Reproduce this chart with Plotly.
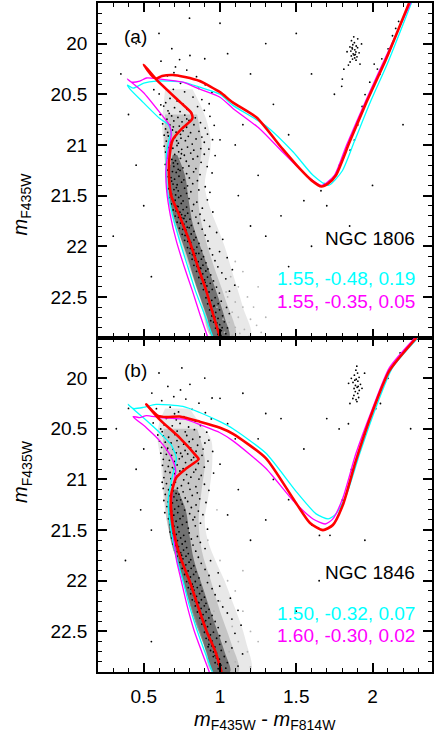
import plotly.graph_objects as go
from plotly.subplots import make_subplots

# ---- isochrones, panel (a) NGC 1806: (colour, magnitude)
iso_a_red = [(1.0, 22.9), (0.96, 22.7), (0.91, 22.44), (0.855, 22.2), (0.80, 21.95), (0.74, 21.72),
             (0.68, 21.5), (0.665, 21.3), (0.67, 21.1), (0.69, 20.95), (0.75, 20.84), (0.81, 20.76),
             (0.82, 20.73), (0.81, 20.68), (0.74, 20.58), (0.58, 20.35), (0.50, 20.21), (0.55, 20.31),
             (0.58, 20.345), (0.62, 20.32), (0.69, 20.31), (0.77, 20.33), (0.867, 20.37), (1.0, 20.48),
             (1.083, 20.58), (1.24, 20.73), (1.41, 21.04), (1.52, 21.23), (1.6, 21.35), (1.665, 21.41),
             (1.71, 21.38), (1.76, 21.30), (1.85, 20.97), (1.96, 20.58), (2.09, 20.15), (2.24, 19.6)]
iso_a_cyan = [(0.954, 22.9), (0.90, 22.68), (0.839, 22.44), (0.788, 22.2), (0.736, 21.95), (0.69, 21.7),
              (0.655, 21.45), (0.648, 21.25), (0.65, 21.07), (0.67, 20.92), (0.68, 20.87), (0.66, 20.8),
              (0.605, 20.74), (0.496, 20.58), (0.41, 20.45), (0.393, 20.41), (0.43, 20.44), (0.50, 20.39),
              (0.58, 20.37), (0.756, 20.38), (0.867, 20.43), (1.0, 20.5), (1.085, 20.61), (1.30, 20.81),
              (1.48, 21.07), (1.61, 21.30), (1.71, 21.40), (1.80, 21.26), (1.88, 20.97), (1.985, 20.58),
              (2.10, 20.19), (2.255, 19.6)]
iso_a_mag = [(0.92, 22.9), (0.87, 22.68), (0.819, 22.44), (0.765, 22.2), (0.714, 21.95), (0.675, 21.7),
             (0.65, 21.45), (0.645, 21.25), (0.66, 21.07), (0.68, 20.90), (0.67, 20.81), (0.605, 20.68),
             (0.496, 20.48), (0.393, 20.35), (0.42, 20.38), (0.474, 20.37), (0.518, 20.34), (0.605, 20.35),
             (0.756, 20.38), (0.867, 20.45), (1.0, 20.53), (1.085, 20.64), (1.26, 20.84), (1.41, 21.07),
             (1.566, 21.30), (1.665, 21.40), (1.75, 21.30), (1.83, 21.0), (1.96, 20.55), (2.09, 20.12),
             (2.25, 19.6)]

# ---- isochrones, panel (b) NGC 1846
iso_b_red = [(1.01, 22.9), (0.97, 22.7), (0.91, 22.49), (0.855, 22.25), (0.80, 22.0), (0.74, 21.77),
             (0.70, 21.54), (0.68, 21.31), (0.68, 21.15), (0.714, 20.98), (0.78, 20.89), (0.86, 20.80),
             (0.845, 20.77), (0.736, 20.59), (0.605, 20.41), (0.517, 20.26), (0.56, 20.33), (0.59, 20.37),
             (0.65, 20.385), (0.736, 20.38), (0.867, 20.43), (1.0, 20.49), (1.085, 20.55), (1.30, 20.79),
             (1.48, 21.19), (1.59, 21.43), (1.675, 21.50), (1.74, 21.45), (1.806, 21.25), (1.89, 20.82),
             (2.0, 20.33), (2.11, 19.93), (2.29, 19.6)]
iso_b_cyan = [(0.95, 22.9), (0.90, 22.7), (0.85, 22.49), (0.80, 22.25), (0.757, 22.0), (0.72, 21.8),
              (0.69, 21.6), (0.67, 21.41), (0.66, 21.21), (0.68, 21.02), (0.70, 20.89), (0.714, 20.79),
              (0.68, 20.66), (0.605, 20.54), (0.496, 20.39), (0.397, 20.26), (0.43, 20.30), (0.496, 20.29),
              (0.58, 20.26), (0.757, 20.28), (0.867, 20.34), (1.0, 20.43), (1.085, 20.5), (1.30, 20.74),
              (1.50, 21.12), (1.63, 21.34), (1.71, 21.39), (1.76, 21.34), (1.83, 21.15), (1.915, 20.75),
              (2.02, 20.30), (2.13, 19.90), (2.30, 19.6)]
iso_b_mag = [(0.93, 22.9), (0.88, 22.7), (0.83, 22.49), (0.785, 22.25), (0.746, 22.0), (0.715, 21.8),
             (0.70, 21.61), (0.68, 21.31), (0.69, 21.08), (0.71, 20.92), (0.70, 20.85), (0.67, 20.75),
             (0.605, 20.62), (0.517, 20.49), (0.43, 20.38), (0.474, 20.39), (0.517, 20.37), (0.605, 20.39),
             (0.78, 20.41), (0.867, 20.46), (1.0, 20.54), (1.085, 20.62), (1.30, 20.89), (1.48, 21.21),
             (1.61, 21.39), (1.69, 21.44), (1.74, 21.39), (1.806, 21.18), (1.89, 20.75), (2.0, 20.30),
             (2.11, 19.90), (2.28, 19.6)]

# ---- main-sequence star density: magnitude, blue edge, red edge
env_a_mag = [20.45, 20.6, 20.8, 21.0, 21.2, 21.4, 21.6, 21.8, 22.0, 22.2, 22.4, 22.6, 22.9]
env_a_lo = [0.64, 0.63, 0.62, 0.63, 0.64, 0.65, 0.68, 0.72, 0.76, 0.80, 0.85, 0.89, 0.95]
env_a_hi = [0.82, 0.87, 0.92, 0.94, 0.92, 0.90, 0.93, 0.98, 1.03, 1.07, 1.11, 1.15, 1.2]
mid_a_mag = [20.7, 21.0, 21.3, 21.6, 21.9, 22.2, 22.5, 22.9]
mid_a_lo = [0.64, 0.635, 0.645, 0.665, 0.725, 0.795, 0.865, 0.95]
mid_a_hi = [0.85, 0.88, 0.86, 0.86, 0.9, 0.96, 1.03, 1.1]
core_a_mag = [21.1, 21.3, 21.55, 21.8, 22.1, 22.4, 22.7, 22.9]
core_a_lo = [0.69, 0.665, 0.67, 0.715, 0.785, 0.845, 0.915, 0.955]
core_a_hi = [0.72, 0.77, 0.795, 0.825, 0.895, 0.965, 1.03, 1.06]

env_b_mag = [20.3, 20.45, 20.6, 20.8, 21.0, 21.2, 21.4, 21.6, 21.8, 22.0, 22.2, 22.4, 22.6, 22.9]
env_b_lo = [0.64, 0.6, 0.59, 0.61, 0.62, 0.63, 0.65, 0.68, 0.72, 0.76, 0.80, 0.85, 0.89, 0.95]
env_b_hi = [0.8, 0.87, 0.94, 0.95, 0.94, 0.92, 0.90, 0.92, 0.97, 1.03, 1.08, 1.13, 1.17, 1.2]
mid_b_mag = [20.5, 20.8, 21.1, 21.4, 21.7, 22.0, 22.3, 22.6, 22.9]
mid_b_lo = [0.63, 0.625, 0.635, 0.65, 0.70, 0.76, 0.82, 0.89, 0.95]
mid_b_hi = [0.85, 0.9, 0.88, 0.86, 0.88, 0.94, 1.0, 1.07, 1.12]
core_b_mag = [21.1, 21.3, 21.55, 21.8, 22.1, 22.4, 22.7, 22.9]
core_b_lo = [0.69, 0.665, 0.67, 0.715, 0.775, 0.835, 0.91, 0.955]
core_b_hi = [0.72, 0.775, 0.8, 0.83, 0.895, 0.96, 1.03, 1.065]

# ---- stars, panel (a)
stars_a = [
    (0.613, 20.174), (0.708, 20.231), (0.782, 20.262), (0.655, 20.318), (0.587, 20.364), (0.846, 20.327),
    (0.741, 20.392), (0.627, 20.418), (0.694, 20.452), (0.903, 20.407), (0.768, 20.476), (0.601, 20.497),
    (0.823, 20.528), (0.672, 20.541), (0.719, 20.566), (0.881, 20.553), (0.644, 20.583), (0.757, 20.597),
    (0.947, 20.481), (0.566, 20.455), (0.698, 20.287), (0.803, 20.118), (0.684, 20.051), (0.929, 20.594),
    (0.612, 20.605), (0.735, 20.158), (0.859, 20.442),
    (0.631, 20.617), (0.702, 20.633), (0.784, 20.648), (0.853, 20.622), (0.659, 20.664), (0.738, 20.671),
    (0.812, 20.683), (0.897, 20.659), (0.608, 20.701), (0.683, 20.714), (0.724, 20.729), (0.769, 20.706),
    (0.838, 20.733), (0.934, 20.718), (0.652, 20.747), (0.697, 20.763), (0.751, 20.772), (0.797, 20.757),
    (0.872, 20.781), (0.624, 20.792), (0.671, 20.803), (0.733, 20.814), (0.781, 20.826), (0.829, 20.801),
    (0.903, 20.834), (0.962, 20.807), (0.643, 20.842), (0.688, 20.853), (0.712, 20.874), (0.758, 20.861),
    (0.807, 20.879), (0.862, 20.866), (0.918, 20.893), (0.634, 20.904), (0.661, 20.912), (0.703, 20.927),
    (0.744, 20.934), (0.792, 20.915), (0.843, 20.941), (0.881, 20.923), (0.648, 20.962), (0.679, 20.971),
    (0.727, 20.983), (0.773, 20.958), (0.818, 20.992), (0.897, 20.974), (0.951, 20.948), (0.667, 20.689),
    (0.741, 20.896), (0.782, 20.744), (0.694, 20.822), (0.716, 20.958), (0.657, 20.877),
    (0.634, 21.012), (0.662, 21.027), (0.691, 21.033), (0.718, 21.006), (0.749, 21.044), (0.787, 21.021),
    (0.828, 21.052), (0.874, 21.036), (0.927, 21.041), (0.643, 21.071), (0.671, 21.083), (0.703, 21.094),
    (0.729, 21.068), (0.766, 21.102), (0.808, 21.081), (0.853, 21.114), (0.897, 21.092), (0.968, 21.105),
    (0.652, 21.128), (0.684, 21.143), (0.708, 21.156), (0.741, 21.132), (0.779, 21.161), (0.823, 21.139),
    (0.876, 21.172), (0.641, 21.193), (0.668, 21.204), (0.697, 21.212), (0.722, 21.187), (0.757, 21.226),
    (0.796, 21.208), (0.842, 21.234), (0.916, 21.214), (0.657, 21.248), (0.688, 21.263), (0.713, 21.271),
    (0.738, 21.252), (0.781, 21.284), (0.827, 21.266), (0.869, 21.293), (0.948, 21.276), (0.651, 21.313),
    (0.679, 21.322), (0.702, 21.338), (0.731, 21.309), (0.763, 21.344), (0.799, 21.326), (0.852, 21.353),
    (0.668, 21.371), (0.692, 21.386), (0.719, 21.393), (0.748, 21.368), (0.787, 21.404), (0.821, 21.382),
    (0.903, 21.413), (0.663, 21.432), (0.698, 21.441), (0.726, 21.453), (0.768, 21.427), (0.809, 21.462),
    (0.861, 21.444), (0.682, 21.484), (0.709, 21.493), (0.743, 21.502), (0.781, 21.478), (0.934, 21.468),
    (0.694, 21.178), (0.726, 21.241), (0.683, 21.357), (0.747, 21.087), (0.714, 21.421),
    (0.664, 21.521), (0.687, 21.534), (0.706, 21.546), (0.729, 21.518), (0.758, 21.553), (0.797, 21.529),
    (0.848, 21.564), (0.917, 21.542), (0.681, 21.582), (0.702, 21.593), (0.718, 21.604), (0.746, 21.577),
    (0.781, 21.613), (0.827, 21.588), (0.884, 21.624), (0.693, 21.641), (0.712, 21.652), (0.737, 21.664),
    (0.758, 21.638), (0.788, 21.673), (0.818, 21.651), (0.869, 21.684), (0.953, 21.662), (0.706, 21.702),
    (0.728, 21.714), (0.749, 21.721), (0.771, 21.698), (0.803, 21.733), (0.842, 21.712), (0.897, 21.744),
    (0.719, 21.763), (0.741, 21.771), (0.763, 21.782), (0.779, 21.757), (0.812, 21.794), (0.858, 21.773),
    (0.932, 21.804), (0.734, 21.822), (0.756, 21.833), (0.777, 21.842), (0.798, 21.817), (0.829, 21.853),
    (0.883, 21.831), (0.978, 21.864), (0.752, 21.882), (0.771, 21.893), (0.792, 21.904), (0.811, 21.879),
    (0.842, 21.913), (0.903, 21.891), (0.768, 21.941), (0.789, 21.952), (0.808, 21.963), (0.829, 21.937),
    (0.862, 21.972), (0.921, 21.948), (1.018, 21.931), (0.726, 21.608), (0.748, 21.687), (0.785, 21.812),
    (0.763, 21.726),
    (0.787, 22.013), (0.806, 22.021), (0.827, 22.034), (0.848, 22.008), (0.879, 22.043), (0.932, 22.024),
    (0.997, 22.052), (0.801, 22.068), (0.819, 22.082), (0.838, 22.094), (0.861, 22.071), (0.892, 22.103),
    (0.951, 22.084), (1.047, 22.112), (0.817, 22.128), (0.836, 22.139), (0.857, 22.152), (0.878, 22.127),
    (0.908, 22.163), (0.967, 22.142), (0.829, 22.188), (0.848, 22.197), (0.869, 22.213), (0.888, 22.186),
    (0.921, 22.224), (0.986, 22.203), (1.081, 22.231), (0.846, 22.247), (0.866, 22.258), (0.887, 22.272),
    (0.907, 22.244), (0.939, 22.283), (1.012, 22.262), (0.861, 22.308), (0.879, 22.317), (0.899, 22.331),
    (0.918, 22.304), (0.957, 22.342), (1.038, 22.321), (0.876, 22.368), (0.896, 22.377), (0.914, 22.392),
    (0.936, 22.366), (0.977, 22.403), (1.097, 22.384), (0.891, 22.427), (0.908, 22.438), (0.928, 22.451),
    (0.949, 22.426), (0.996, 22.462), (1.062, 22.443), (0.843, 22.071), (0.874, 22.219), (0.902, 22.356),
    (0.908, 22.508), (0.927, 22.521), (0.946, 22.533), (0.968, 22.507), (1.008, 22.542), (0.919, 22.568),
    (0.937, 22.579), (0.958, 22.592), (0.988, 22.566), (1.043, 22.603), (0.932, 22.628), (0.951, 22.641),
    (0.972, 22.653), (0.997, 22.627), (1.061, 22.664), (0.947, 22.688), (0.966, 22.698), (0.987, 22.712),
    (1.017, 22.686), (0.958, 22.748), (0.979, 22.757), (0.998, 22.773), (1.028, 22.745), (0.971, 22.807),
    (0.991, 22.818), (1.009, 22.832), (1.049, 22.806), (0.986, 22.868), (1.006, 22.879), (1.038, 22.862),
    (0.939, 22.734), (0.962, 22.587), (1.014, 22.803),
    # red clump and giants
    (1.862, 19.972), (1.881, 19.991), (1.871, 20.012), (1.893, 20.024), (1.852, 20.033), (1.902, 20.041),
    (1.868, 20.053), (1.884, 20.062), (1.858, 20.074), (1.891, 20.083), (1.912, 20.092), (1.873, 20.101),
    (1.879, 20.113), (1.861, 20.122), (1.898, 20.131), (1.883, 20.142), (1.869, 20.153), (1.892, 20.164),
    (1.853, 20.182), (1.918, 20.203), (1.833, 20.081), (1.928, 20.004), (1.877, 19.934), (1.842, 20.212),
    (1.903, 19.953), (1.812, 20.253), (1.802, 20.351), (1.798, 20.422), (1.887, 20.108), (1.866, 20.041),
    (2.011, 20.203), (2.032, 20.252), (2.048, 20.304), (2.061, 20.151), (2.102, 20.052), (2.131, 19.923),
    (2.152, 19.851), (2.171, 19.782), (1.982, 20.381), (1.951, 20.503), (1.932, 20.621), (1.903, 20.803),
    (1.881, 20.952), (1.853, 21.051), (1.782, 21.203), (1.683, 21.381), (1.662, 21.452),
    # field
    (0.35, 20.3), (0.4, 20.7), (0.45, 21.2), (0.5, 21.6), (0.3, 21.9), (0.55, 22.3), (0.45, 20.0),
    (1.05, 20.1), (1.2, 20.3), (1.35, 20.6), (1.15, 20.8), (1.45, 20.9), (1.1, 21.0), (1.25, 21.3),
    (1.55, 21.55), (1.4, 21.7), (1.7, 21.6), (1.3, 21.9), (1.6, 22.0), (1.45, 22.2), (1.85, 21.8),
    (2.0, 21.4), (1.75, 20.5), (1.6, 20.3), (2.2, 20.8), (1.0, 19.8), (0.8, 19.75), (1.5, 19.9),
    (1.3, 20.0), (1.12, 21.5), (1.2, 21.8), (0.9, 20.15), (0.6, 19.9), (1.4, 22.5), (1.0, 20.95),
]
faint_a = [
    (1.05, 22.5), (1.1, 22.55), (1.15, 22.6), (1.08, 22.65), (1.12, 22.7), (1.2, 22.72), (1.06, 22.75),
    (1.1, 22.8), (1.16, 22.82), (1.24, 22.78), (1.03, 22.85), (1.08, 22.88), (1.13, 22.86), (1.19, 22.89),
    (1.27, 22.85), (1.02, 22.62), (1.18, 22.5), (1.12, 22.4), (1.07, 22.3), (1.15, 22.25), (1.22, 22.6),
    (1.3, 22.7), (1.1, 22.15), (1.02, 22.72), (0.98, 22.6), (1.04, 22.45), (1.25, 22.4),
]

# ---- stars, panel (b)
stars_b = [
    (0.658, 20.083), (0.741, 20.117), (0.803, 20.062), (0.697, 20.184), (0.618, 20.223), (0.776, 20.207),
    (0.862, 20.248), (0.583, 20.302), (0.673, 20.287), (0.728, 20.334), (0.817, 20.309), (0.904, 20.342),
    (0.602, 20.373), (0.648, 20.398), (0.713, 20.412), (0.763, 20.381), (0.838, 20.424), (0.943, 20.403),
    (0.562, 20.443), (0.634, 20.462), (0.687, 20.471), (0.738, 20.448), (0.794, 20.483), (0.872, 20.468),
    (0.611, 20.502), (0.668, 20.497), (0.719, 20.523), (0.772, 20.531), (0.832, 20.509), (0.913, 20.534),
    (0.553, 20.148), (0.948, 20.197), (0.702, 20.352), (0.621, 20.529),
    (0.592, 20.562), (0.628, 20.571), (0.663, 20.584), (0.704, 20.558), (0.737, 20.593), (0.782, 20.567),
    (0.821, 20.604), (0.868, 20.581), (0.927, 20.613), (0.603, 20.622), (0.641, 20.633), (0.679, 20.641),
    (0.718, 20.617), (0.762, 20.652), (0.798, 20.628), (0.853, 20.663), (0.901, 20.641), (0.617, 20.684),
    (0.657, 20.692), (0.692, 20.703), (0.728, 20.679), (0.771, 20.714), (0.808, 20.688), (0.843, 20.722),
    (0.889, 20.701), (0.952, 20.724), (0.612, 20.741), (0.648, 20.753), (0.683, 20.762), (0.713, 20.738),
    (0.752, 20.774), (0.788, 20.749), (0.827, 20.783), (0.882, 20.762), (0.628, 20.802), (0.668, 20.812),
    (0.702, 20.823), (0.733, 20.797), (0.774, 20.834), (0.812, 20.808), (0.858, 20.843), (0.921, 20.819),
    (0.623, 20.861), (0.661, 20.872), (0.688, 20.883), (0.719, 20.857), (0.758, 20.894), (0.801, 20.868),
    (0.841, 20.902), (0.897, 20.879), (0.642, 20.921), (0.672, 20.932), (0.703, 20.943), (0.737, 20.917),
    (0.781, 20.952), (0.828, 20.928), (0.877, 20.961), (0.958, 20.938), (0.632, 20.982), (0.678, 20.993),
    (0.718, 20.969), (0.762, 21.004), (0.809, 20.978), (0.862, 20.997), (0.742, 20.742), (0.698, 20.898),
    (0.652, 20.708),
    (0.621, 21.028), (0.649, 21.041), (0.682, 21.053), (0.708, 21.026), (0.747, 21.062), (0.793, 21.038),
    (0.842, 21.072), (0.898, 21.048), (0.628, 21.089), (0.663, 21.102), (0.692, 21.113), (0.721, 21.087),
    (0.758, 21.122), (0.803, 21.098), (0.851, 21.132), (0.927, 21.108), (0.641, 21.148), (0.672, 21.161),
    (0.698, 21.172), (0.731, 21.146), (0.772, 21.183), (0.818, 21.158), (0.867, 21.192), (0.632, 21.208),
    (0.658, 21.221), (0.688, 21.232), (0.717, 21.206), (0.752, 21.243), (0.788, 21.218), (0.843, 21.252),
    (0.908, 21.228), (0.652, 21.268), (0.677, 21.282), (0.703, 21.293), (0.728, 21.267), (0.768, 21.303),
    (0.812, 21.277), (0.858, 21.312), (0.638, 21.328), (0.668, 21.342), (0.697, 21.353), (0.723, 21.327),
    (0.757, 21.362), (0.801, 21.338), (0.834, 21.372), (0.888, 21.348), (0.662, 21.388), (0.688, 21.402),
    (0.712, 21.413), (0.738, 21.387), (0.781, 21.422), (0.823, 21.398), (0.872, 21.432), (0.671, 21.447),
    (0.698, 21.461), (0.722, 21.472), (0.753, 21.446), (0.792, 21.482), (0.838, 21.458), (0.918, 21.491),
    (0.712, 21.138), (0.683, 21.312), (0.742, 21.201),
    (0.673, 21.518), (0.692, 21.532), (0.713, 21.543), (0.731, 21.517), (0.762, 21.552), (0.798, 21.528),
    (0.852, 21.562), (0.683, 21.578), (0.702, 21.592), (0.721, 21.603), (0.742, 21.577), (0.772, 21.612),
    (0.812, 21.588), (0.871, 21.622), (0.692, 21.638), (0.711, 21.652), (0.728, 21.663), (0.752, 21.637),
    (0.781, 21.672), (0.823, 21.648), (0.902, 21.682), (0.703, 21.698), (0.721, 21.712), (0.742, 21.723),
    (0.761, 21.697), (0.792, 21.732), (0.841, 21.708), (0.718, 21.758), (0.738, 21.772), (0.757, 21.783),
    (0.777, 21.757), (0.808, 21.792), (0.858, 21.768), (0.938, 21.802), (0.737, 21.818), (0.756, 21.832),
    (0.776, 21.843), (0.797, 21.817), (0.828, 21.852), (0.877, 21.828), (0.752, 21.878), (0.771, 21.892),
    (0.791, 21.903), (0.811, 21.877), (0.842, 21.912), (0.902, 21.888), (0.988, 21.922), (0.768, 21.938),
    (0.787, 21.952), (0.806, 21.963), (0.827, 21.937), (0.862, 21.972), (0.928, 21.948), (0.723, 21.668),
    (0.748, 21.748),
    (0.781, 22.008), (0.799, 22.022), (0.818, 22.033), (0.838, 22.007), (0.871, 22.042), (0.918, 22.018),
    (0.998, 22.052), (0.792, 22.068), (0.811, 22.082), (0.829, 22.093), (0.851, 22.067), (0.882, 22.102),
    (0.948, 22.078), (0.808, 22.128), (0.827, 22.142), (0.846, 22.153), (0.866, 22.127), (0.898, 22.162),
    (0.968, 22.138), (1.068, 22.172), (0.818, 22.188), (0.838, 22.202), (0.857, 22.213), (0.878, 22.187),
    (0.908, 22.222), (0.988, 22.198), (0.838, 22.248), (0.856, 22.262), (0.876, 22.273), (0.897, 22.247),
    (0.928, 22.282), (1.018, 22.258), (1.118, 22.292), (0.852, 22.308), (0.871, 22.322), (0.889, 22.333),
    (0.909, 22.307), (0.948, 22.342), (1.048, 22.318), (0.868, 22.368), (0.887, 22.382), (0.906, 22.393),
    (0.927, 22.367), (0.968, 22.402), (1.078, 22.378), (0.881, 22.428), (0.899, 22.442), (0.918, 22.453),
    (0.938, 22.427), (0.988, 22.462), (1.138, 22.438), (0.862, 22.218), (0.897, 22.409), (0.823, 22.058),
    (0.898, 22.508), (0.918, 22.522), (0.937, 22.533), (0.957, 22.507), (0.998, 22.542), (1.098, 22.518),
    (0.909, 22.568), (0.928, 22.582), (0.947, 22.593), (0.978, 22.567), (1.038, 22.602), (0.927, 22.628),
    (0.946, 22.642), (0.966, 22.653), (0.998, 22.627), (1.078, 22.662), (0.938, 22.688), (0.957, 22.702),
    (0.977, 22.713), (1.008, 22.687), (1.148, 22.722), (0.956, 22.748), (0.976, 22.762), (0.996, 22.773),
    (1.028, 22.747), (0.968, 22.808), (0.987, 22.822), (1.006, 22.833), (1.048, 22.807), (1.118, 22.842),
    (0.988, 22.868), (1.008, 22.882), (1.038, 22.862), (0.922, 22.651), (0.968, 22.738),
    # red clump and giants
    (1.891, 19.922), (1.902, 19.951), (1.881, 19.972), (1.912, 19.993), (1.893, 20.012), (1.904, 20.031),
    (1.872, 20.043), (1.921, 20.062), (1.888, 20.073), (1.899, 20.091), (1.879, 20.103), (1.913, 20.122),
    (1.887, 20.133), (1.903, 20.152), (1.878, 20.171), (1.909, 20.192), (1.892, 20.213), (1.898, 20.232),
    (1.861, 20.003), (1.931, 20.101), (1.871, 20.202), (1.843, 20.052), (1.948, 19.952), (1.897, 19.883),
    (1.852, 20.251), (1.884, 20.021), (1.906, 20.083),
    (1.842, 20.451), (1.781, 20.502), (1.951, 20.553), (2.021, 20.302), (2.052, 20.251), (1.972, 20.451),
    (2.101, 20.003), (2.142, 19.852), (2.181, 19.752), (1.862, 20.902), (1.803, 21.201), (1.721, 21.552),
    (1.652, 21.553), (1.603, 21.451),
    # field
    (0.32, 20.5), (0.4, 20.3), (0.45, 20.9), (0.48, 21.3), (0.5, 20.7), (0.55, 21.5), (0.38, 21.8),
    (0.6, 19.95), (0.75, 19.9), (0.9, 20.0), (1.0, 20.2), (1.05, 20.45), (1.15, 20.15), (1.3, 20.35),
    (1.0, 20.85), (1.12, 21.1), (1.05, 21.35), (1.2, 21.6), (1.35, 21.0), (1.45, 21.2), (1.55, 20.7),
    (1.3, 21.4), (1.4, 20.4), (1.7, 20.4), (2.25, 20.5), (1.95, 21.6), (1.5, 22.3), (0.55, 22.6),
    (1.65, 22.0), (1.25, 20.6), (1.1, 20.6),
]
faint_b = [
    (1.05, 22.0), (1.1, 22.1), (1.0, 22.2), (1.15, 22.3), (1.08, 22.45), (1.2, 22.5), (1.12, 22.6),
    (1.18, 22.7), (1.06, 22.7), (1.1, 22.8), (1.2, 22.85), (1.03, 22.62), (0.96, 22.3), (1.25, 22.6),
    (1.0, 21.8), (0.92, 21.6), (0.98, 21.3), (1.15, 21.9),
]

labels_a = ['NGC 1806', '1.55, -0.48, 0.19', '1.55, -0.35, 0.05']
labels_b = ['NGC 1846', '1.50, -0.32, 0.07', '1.60, -0.30, 0.02']

FONT = 'Liberation Sans, Arial, sans-serif'
CYAN, MAGENTA, RED = '#00FFFF', '#FF00FF', '#FF0000'


def xy(points):
    xs, ys = zip(*points)
    return list(xs), list(ys)


def band(fig, row, mags, lo, hi, color):
    # closed polygon: blue edge downwards, red edge back up
    fig.add_trace(go.Scatter(x=lo + hi[::-1], y=mags + mags[::-1], mode='lines', fill='toself',
                             fillcolor=color, line=dict(width=0, shape='spline'), hoverinfo='skip'),
                  row=row, col=1)


def add_panel(fig, row, bands, stars, faint, red, cyan, mag):
    for (mags, lo, hi), alpha in zip(bands, [0.09, 0.15, 0.42]):
        band(fig, row, mags, lo, hi, f'rgba(0,0,0,{alpha})')
    x, y = xy(faint)
    fig.add_trace(go.Scatter(x=x, y=y, mode='markers', marker=dict(size=1.8, color='#b4b4b4')), row=row, col=1)
    x, y = xy(stars)
    fig.add_trace(go.Scatter(x=x, y=y, mode='markers', marker=dict(size=1.8, color='black')), row=row, col=1)
    for pts, color, width in [(cyan, CYAN, 1.3), (mag, MAGENTA, 1.3), (red, RED, 2.6)]:
        x, y = xy(pts)
        fig.add_trace(go.Scatter(x=x, y=y, mode='lines',
                                 line=dict(color=color, width=width, shape='spline', smoothing=0.6)),
                      row=row, col=1)


fig = make_subplots(rows=2, cols=1, shared_xaxes=True, vertical_spacing=0)
add_panel(fig, 1, [(env_a_mag, env_a_lo, env_a_hi), (mid_a_mag, mid_a_lo, mid_a_hi),
                   (core_a_mag, core_a_lo, core_a_hi)],
          stars_a, faint_a, iso_a_red, iso_a_cyan, iso_a_mag)
add_panel(fig, 2, [(env_b_mag, env_b_lo, env_b_hi), (mid_b_mag, mid_b_lo, mid_b_hi),
                   (core_b_mag, core_b_lo, core_b_hi)],
          stars_b, faint_b, iso_b_red, iso_b_cyan, iso_b_mag)

axis = dict(showline=True, linecolor='black', linewidth=1.6, mirror='ticks', ticks='inside',
            ticklen=9, tickwidth=1.5, tickcolor='black', showgrid=False, zeroline=False,
            tickfont=dict(family=FONT, size=19, color='black'))
fig.update_xaxes(**axis, range=[0.2, 2.39], tick0=0, dtick=0.5, ticklabelstandoff=6,
                 minor=dict(ticks='inside', ticklen=4.5, tickwidth=1.2, tickcolor='black', dtick=0.1))
fig.update_yaxes(**axis, range=[22.9, 19.6], tick0=20, dtick=0.5, ticklabelstandoff=5,
                 minor=dict(ticks='inside', ticklen=4.5, tickwidth=1.2, tickcolor='black', dtick=0.1))

annotations = []
for xr, yr, tag, labels in [('x', 'y', '(a)', labels_a), ('x2', 'y2', '(b)', labels_b)]:
    annotations.append(dict(xref=xr, yref=yr, x=0.356, y=19.93, text=tag, xanchor='left', showarrow=False,
                            font=dict(family=FONT, size=19, color='black')))
    for text, yy, color in zip(labels, [21.92, 22.32, 22.54], ['black', CYAN, MAGENTA]):
        annotations.append(dict(xref=xr, yref=yr, x=2.29, y=yy, text=text, xanchor='right', showarrow=False,
                                font=dict(family=FONT, size=19, color=color)))
ytitle = '<i>m</i><sub>F435W</sub>'
for yc in [0.75, 0.25]:
    annotations.append(dict(xref='paper', yref='paper', x=-0.272, y=yc, text=ytitle, textangle=-90,
                            showarrow=False, font=dict(family=FONT, size=20, color='black')))
annotations.append(dict(xref='paper', yref='paper', x=0.5, y=-0.073, yanchor='middle',
                        text='<i>m</i><sub>F435W</sub> - <i>m</i><sub>F814W</sub>',
                        showarrow=False, font=dict(family=FONT, size=20, color='black')))

fig.update_layout(width=435, height=733, margin=dict(l=98, r=3, t=1, b=61),
                  plot_bgcolor='white', paper_bgcolor='white', showlegend=False,
                  font=dict(family=FONT, color='black'), annotations=annotations)

# the page body has a default 8px margin; drop it so the figure sits at the window corner
fig.write_html('out.html', config={'displayModeBar': False},
               post_script="document.body.style.margin='0px';")
